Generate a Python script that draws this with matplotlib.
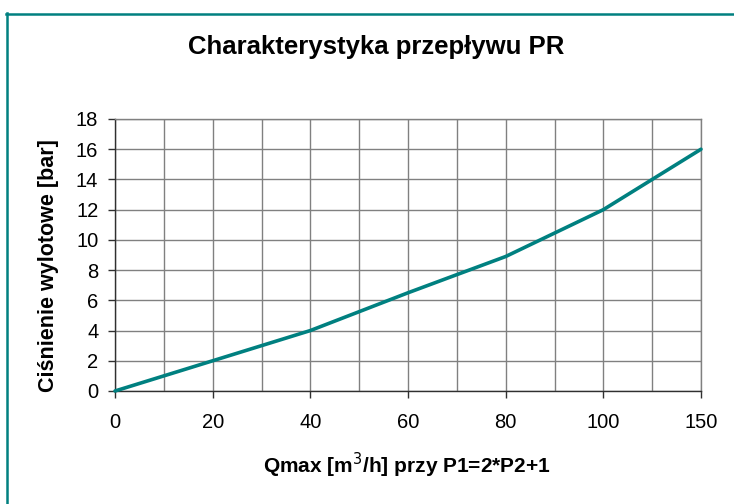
import matplotlib
matplotlib.use('Agg')
import matplotlib.pyplot as plt
import numpy as np
from matplotlib.lines import Line2D

# Dane
QMAX = [0, 20, 40, 60, 80, 100, 150]
CISNIENIE = [0, 2, 4, 6.5, 8.9, 12, 16]
YTICKS = list(range(0, 19, 2))

TEAL = '#008080'
GRID = '#808080'

plt.rcParams['font.family'] = ['Liberation Sans', 'DejaVu Sans']

fig = plt.figure(figsize=(7.34, 5.04), dpi=100)
W, H = 734.0, 504.0
ax = fig.add_axes((115 / W, (H - 391) / H, 586 / W, 272 / H))

pos = np.arange(len(QMAX))
ax.plot(pos, CISNIENIE, color=TEAL, linewidth=2.6,
        solid_joinstyle='round', solid_capstyle='round', zorder=5,
        clip_on=False)

ax.set_xlim(0, len(QMAX) - 1)
ax.set_ylim(0, 18)
ax.set_xticks(pos)
ax.set_xticklabels([str(q) for q in QMAX])
ax.set_xticks(np.arange(0, len(QMAX) - 1, 0.5) + 0.5, minor=True)
ax.set_yticks(YTICKS)

ax.grid(True, which='both', color=GRID, linewidth=1.0)
ax.set_axisbelow(True)
ax.tick_params(axis='both', which='major', direction='out', length=5,
               width=1, color='#303030', labelsize=14.5)
ax.tick_params(axis='x', which='major', pad=11)
ax.tick_params(axis='y', which='major', pad=7)
ax.tick_params(axis='x', which='minor', length=0)

for s in ['top', 'right']:
    ax.spines[s].set_color(GRID)
    ax.spines[s].set_linewidth(1.0)
for s in ['left', 'bottom']:
    ax.spines[s].set_color('#303030')
    ax.spines[s].set_linewidth(1.0)

fig.text(407 / W, 1 - 465 / H, 'Qmax [m$^3$/h] przy P1=2*P2+1',
         fontsize=15, fontweight='bold', ha='center', va='center')
fig.text(49 / W, 1 - 266 / H, 'Ciśnienie wylotowe [bar]',
         fontsize=15.5, fontweight='bold', ha='center', va='center',
         rotation=90)

fig.text(376 / W, 1 - 47 / H, 'Charakterystyka przepływu PR',
         fontsize=18.5, fontweight='bold', ha='center', va='center')

# Ramka
fig.add_artist(Line2D([7 / W, 7 / W], [0, 1 - 13 / H], color=TEAL,
                      linewidth=1.8, transform=fig.transFigure))
fig.add_artist(Line2D([6 / W, 1], [1 - 14 / H, 1 - 14 / H], color=TEAL,
                      linewidth=1.8, transform=fig.transFigure))

fig.savefig('out.png', dpi=100)
